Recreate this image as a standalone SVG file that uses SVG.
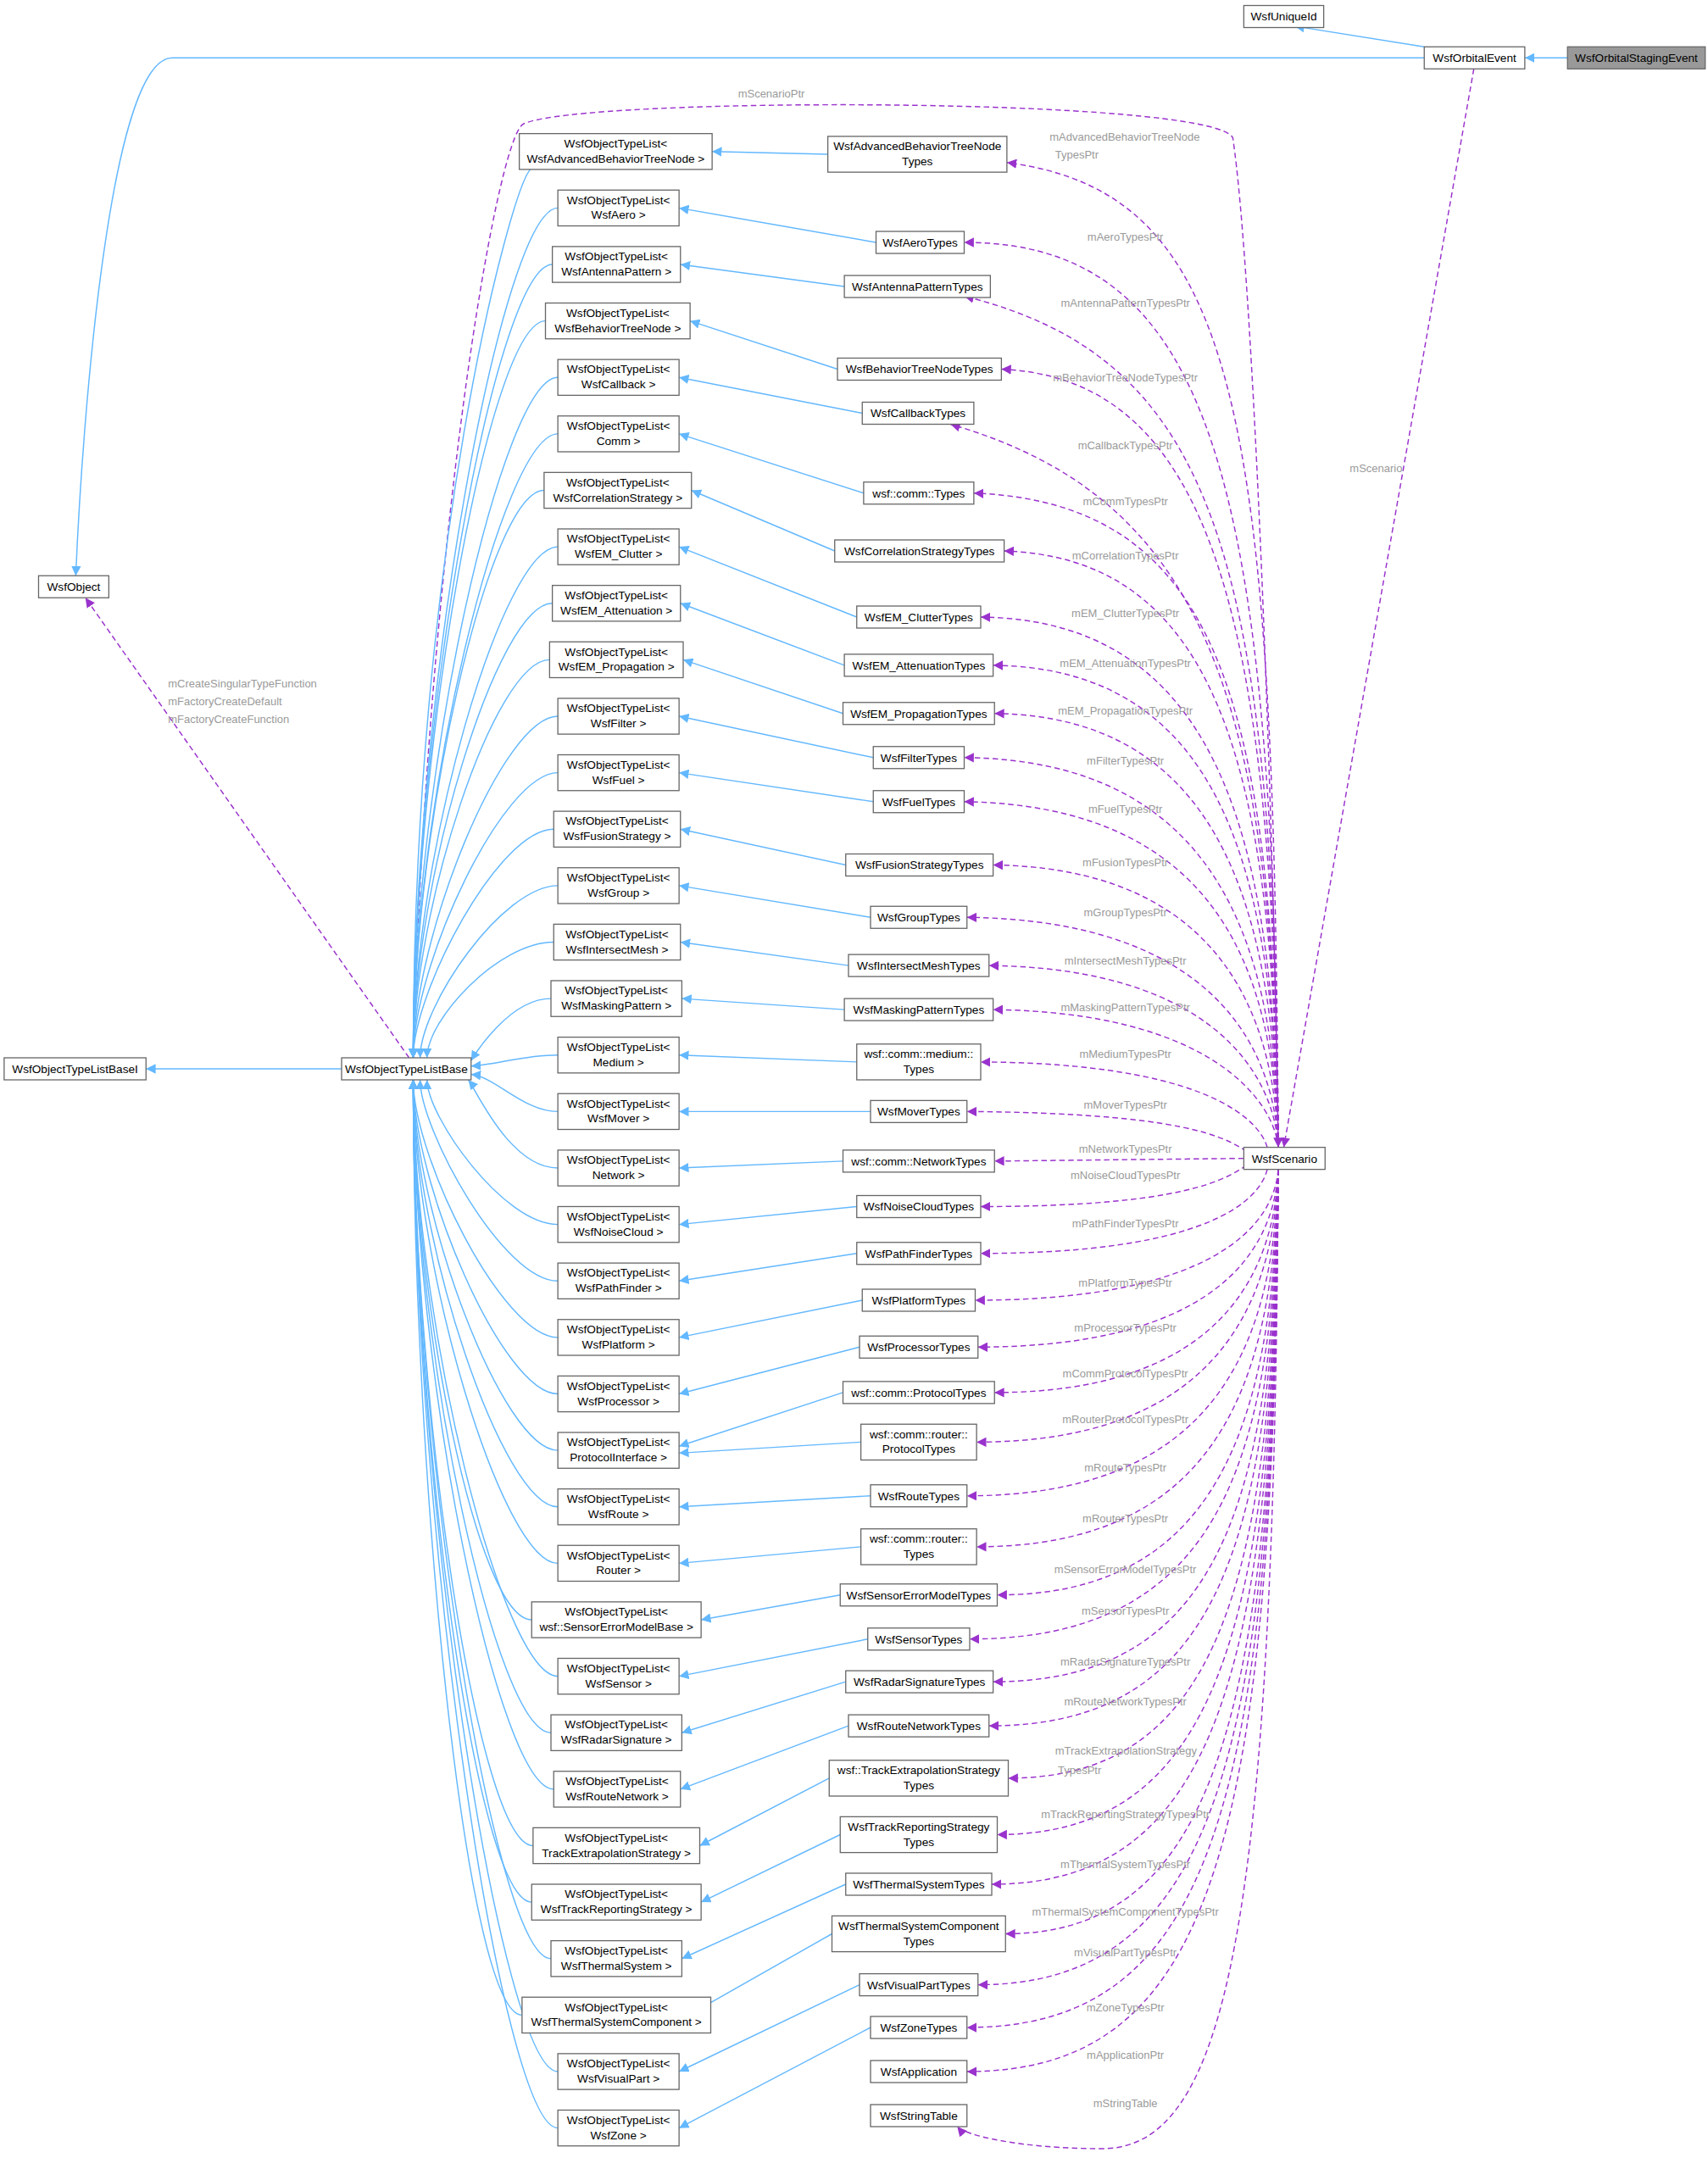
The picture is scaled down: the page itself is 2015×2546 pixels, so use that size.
<svg xmlns="http://www.w3.org/2000/svg" width="2015" height="2546" viewBox="0 0 2015 2546">
<style>
.b rect{fill:#fff;stroke:#666;stroke-width:0.8}
.b text{font-family:"Liberation Sans",Arial,sans-serif;font-size:8.4px;fill:#000;text-anchor:middle}
.e{fill:none;stroke:#63b8ff;stroke-width:0.9}
.d{fill:none;stroke:#9a32cd;stroke-width:0.9;stroke-dasharray:4,2.5}
.l{font-family:"Liberation Sans",Arial,sans-serif;font-size:8px;fill:#9a9a9a;text-anchor:middle}
.ls{font-family:"Liberation Sans",Arial,sans-serif;font-size:8px;fill:#9a9a9a}
</style>
<defs>
<marker id="ab" viewBox="0 0 10 10" refX="10" refY="5" markerWidth="7" markerHeight="7" markerUnits="userSpaceOnUse" orient="auto"><path d="M0,0L10,5L0,10z" fill="#63b8ff"/></marker>
<marker id="ap" viewBox="0 0 10 10" refX="10" refY="5" markerWidth="7" markerHeight="7" markerUnits="userSpaceOnUse" orient="auto"><path d="M0,0L10,5L0,10z" fill="#9a32cd"/></marker>
</defs>
<rect width="2015" height="2546" fill="#fff"/>
<g transform="scale(1.625)">
<g id="connectors">
<path class="e" marker-end="url(#ab)" d="M1138,42L1107,42"/>
<path class="e" marker-end="url(#ab)" d="M1034,34L940,19"/>
<path class="e" marker-end="url(#ab)" d="M1034,42L125,42C80,42 60,300 55,418"/>
<path class="e" marker-end="url(#ab)" d="M248,776L106,776"/>
<path class="d" marker-end="url(#ap)" d="M297,768L62,434"/>
<text class="ls" x="122" y="499">mCreateSingularTypeFunction</text>
<text class="ls" x="122" y="512">mFactoryCreateDefault</text>
<text class="ls" x="122" y="525">mFactoryCreateFunction</text>
<path class="d" marker-end="url(#ap)" d="M1070,50L932,833"/>
<text class="l" x="999" y="343">mScenario</text>
<path class="d" marker-end="url(#ap)" d="M300,768C310,400 360,100 380,90C420,70 880,70 895,100C910,200 925,600 928,833"/>
<text class="l" x="560" y="71">mScenarioPtr</text>
<!-- list to base -->
<path class="e" marker-end="url(#ab)" d="M385,123C370,140 300,400 300,768"/>
<path class="e" marker-end="url(#ab)" d="M405,151C365,151 300,500 300,768"/>
<path class="e" marker-end="url(#ab)" d="M401,192C361,192 300,520 300,768"/>
<path class="e" marker-end="url(#ab)" d="M396,233C356,233 300,540 300,768"/>
<path class="e" marker-end="url(#ab)" d="M405,274C365,274 300,560 300,768"/>
<path class="e" marker-end="url(#ab)" d="M405,315C365,315 300,580 300,768"/>
<path class="e" marker-end="url(#ab)" d="M395,356C355,356 300,600 300,768"/>
<path class="e" marker-end="url(#ab)" d="M405,397C365,397 300,620 300,768"/>
<path class="e" marker-end="url(#ab)" d="M401,438C361,438 300,640 300,768"/>
<path class="e" marker-end="url(#ab)" d="M399,479C359,479 300,660 300,768"/>
<path class="e" marker-end="url(#ab)" d="M405,520C365,520 300,680 300,768"/>
<path class="e" marker-end="url(#ab)" d="M405,561C365,561 300,700 300,768"/>
<path class="e" marker-end="url(#ab)" d="M402,602C362,602 300,720 300,768"/>
<path class="e" marker-end="url(#ab)" d="M405,643C365,643 305,730 305,768"/>
<path class="e" marker-end="url(#ab)" d="M402,684C362,684 310,740 310,768"/>
<path class="e" marker-end="url(#ab)" d="M400,725C370,725 345,765 342,770"/>
<path class="e" marker-end="url(#ab)" d="M405,766C380,766 360,773 342,774"/>
<path class="e" marker-end="url(#ab)" d="M405,807C380,807 360,782 342,780"/>
<path class="e" marker-end="url(#ab)" d="M405,848C370,848 345,790 340,784"/>
<path class="e" marker-end="url(#ab)" d="M405,889C365,889 310,810 310,784"/>
<path class="e" marker-end="url(#ab)" d="M405,930C365,930 305,820 305,784"/>
<path class="e" marker-end="url(#ab)" d="M405,971C365,971 300,840 300,784"/>
<path class="e" marker-end="url(#ab)" d="M405,1012C365,1012 300,860 300,784"/>
<path class="e" marker-end="url(#ab)" d="M405,1053C365,1053 300,880 300,784"/>
<path class="e" marker-end="url(#ab)" d="M405,1094C365,1094 300,900 300,784"/>
<path class="e" marker-end="url(#ab)" d="M405,1135C365,1135 300,920 300,784"/>
<path class="e" marker-end="url(#ab)" d="M386,1176C346,1176 300,940 300,784"/>
<path class="e" marker-end="url(#ab)" d="M405,1217C365,1217 300,960 300,784"/>
<path class="e" marker-end="url(#ab)" d="M400,1258C360,1258 300,980 300,784"/>
<path class="e" marker-end="url(#ab)" d="M402,1299C362,1299 300,1000 300,784"/>
<path class="e" marker-end="url(#ab)" d="M387,1340C347,1340 300,1020 300,784"/>
<path class="e" marker-end="url(#ab)" d="M386,1381C346,1381 300,1040 300,784"/>
<path class="e" marker-end="url(#ab)" d="M400,1422C360,1422 300,1060 300,784"/>
<path class="e" marker-end="url(#ab)" d="M379,1463C339,1463 300,1080 300,784"/>
<path class="e" marker-end="url(#ab)" d="M405,1504C365,1504 300,1100 300,784"/>
<path class="e" marker-end="url(#ab)" d="M405,1545C365,1545 300,1120 300,784"/>
<!-- types to list -->
<path class="e" marker-end="url(#ab)" d="M601,112L517,110"/>
<path class="e" marker-end="url(#ab)" d="M636,176L493,151"/>
<path class="e" marker-end="url(#ab)" d="M613,208L494,192"/>
<path class="e" marker-end="url(#ab)" d="M608,268L501,233"/>
<path class="e" marker-end="url(#ab)" d="M626,300L493,274"/>
<path class="e" marker-end="url(#ab)" d="M627,358L493,315"/>
<path class="e" marker-end="url(#ab)" d="M606,400L502,356"/>
<path class="e" marker-end="url(#ab)" d="M622,448L493,397"/>
<path class="e" marker-end="url(#ab)" d="M613,483L494,438"/>
<path class="e" marker-end="url(#ab)" d="M612,518L496,479"/>
<path class="e" marker-end="url(#ab)" d="M634,550L493,520"/>
<path class="e" marker-end="url(#ab)" d="M634,582L493,561"/>
<path class="e" marker-end="url(#ab)" d="M614,628L494,602"/>
<path class="e" marker-end="url(#ab)" d="M632,666L493,643"/>
<path class="e" marker-end="url(#ab)" d="M616,701L494,684"/>
<path class="e" marker-end="url(#ab)" d="M613,733L495,725"/>
<path class="e" marker-end="url(#ab)" d="M622,771L493,766"/>
<path class="e" marker-end="url(#ab)" d="M632,807L493,807"/>
<path class="e" marker-end="url(#ab)" d="M612,843L493,848"/>
<path class="e" marker-end="url(#ab)" d="M622,876L493,889"/>
<path class="e" marker-end="url(#ab)" d="M622,910L493,930"/>
<path class="e" marker-end="url(#ab)" d="M626,944L493,971"/>
<path class="e" marker-end="url(#ab)" d="M624,978L493,1012"/>
<path class="e" marker-end="url(#ab)" d="M612,1011L493,1050"/>
<path class="e" marker-end="url(#ab)" d="M625,1047L493,1055"/>
<path class="e" marker-end="url(#ab)" d="M632,1086L493,1094"/>
<path class="e" marker-end="url(#ab)" d="M625,1123L493,1135"/>
<path class="e" marker-end="url(#ab)" d="M610,1158L509,1176"/>
<path class="e" marker-end="url(#ab)" d="M630,1190L493,1217"/>
<path class="e" marker-end="url(#ab)" d="M614,1221L495,1258"/>
<path class="e" marker-end="url(#ab)" d="M616,1253L494,1299"/>
<path class="e" marker-end="url(#ab)" d="M602,1291L508,1340"/>
<path class="e" marker-end="url(#ab)" d="M610,1332L509,1381"/>
<path class="e" marker-end="url(#ab)" d="M614,1368L495,1422"/>
<path class="e" marker-end="url(#ab)" d="M604,1404L500,1463"/>
<path class="e" marker-end="url(#ab)" d="M624,1441L493,1504"/>
<path class="e" marker-end="url(#ab)" d="M632,1472L493,1545"/>
<!-- scenario to types -->
<path class="d" marker-end="url(#ap)" d="M928,833C925,300 900,140 731,118"/>
<path class="d" marker-end="url(#ap)" d="M928,833C925,350 880,176 700,176"/>
<path class="d" marker-end="url(#ap)" d="M928,833C925,400 880,260 700,215"/>
<path class="d" marker-end="url(#ap)" d="M928,833C925,450 880,275 727,268"/>
<path class="d" marker-end="url(#ap)" d="M928,833C925,500 870,360 690,308"/>
<path class="d" marker-end="url(#ap)" d="M928,833C925,500 880,365 707,358"/>
<path class="d" marker-end="url(#ap)" d="M928,833C925,550 880,405 729,400"/>
<path class="d" marker-end="url(#ap)" d="M928,833C925,600 880,450 712,448"/>
<path class="d" marker-end="url(#ap)" d="M928,833C925,620 880,485 721,483"/>
<path class="d" marker-end="url(#ap)" d="M928,833C925,650 880,520 722,518"/>
<path class="d" marker-end="url(#ap)" d="M928,833C925,680 880,552 700,550"/>
<path class="d" marker-end="url(#ap)" d="M928,833C925,700 880,585 700,582"/>
<path class="d" marker-end="url(#ap)" d="M928,833C925,730 880,630 721,628"/>
<path class="d" marker-end="url(#ap)" d="M928,833C925,760 880,668 702,666"/>
<path class="d" marker-end="url(#ap)" d="M928,833C925,780 880,703 718,701"/>
<path class="d" marker-end="url(#ap)" d="M928,833C925,800 880,735 721,733"/>
<path class="d" marker-end="url(#ap)" d="M920,833C915,815 880,772 712,771"/>
<path class="d" marker-end="url(#ap)" d="M905,836C890,826 860,808 702,807"/>
<path class="d" marker-end="url(#ap)" d="M903,841L722,843"/>
<path class="d" marker-end="url(#ap)" d="M905,846C890,856 860,876 712,876"/>
<path class="d" marker-end="url(#ap)" d="M920,849C915,870 880,910 712,910"/>
<path class="d" marker-end="url(#ap)" d="M928,849C925,890 880,944 708,944"/>
<path class="d" marker-end="url(#ap)" d="M928,849C925,910 880,978 710,978"/>
<path class="d" marker-end="url(#ap)" d="M928,849C925,930 880,1011 722,1011"/>
<path class="d" marker-end="url(#ap)" d="M928,849C925,950 880,1047 709,1047"/>
<path class="d" marker-end="url(#ap)" d="M928,849C925,980 880,1086 702,1086"/>
<path class="d" marker-end="url(#ap)" d="M928,849C925,1010 880,1123 709,1123"/>
<path class="d" marker-end="url(#ap)" d="M928,849C925,1040 880,1158 724,1158"/>
<path class="d" marker-end="url(#ap)" d="M928,849C925,1070 880,1190 704,1190"/>
<path class="d" marker-end="url(#ap)" d="M928,849C925,1100 880,1221 721,1221"/>
<path class="d" marker-end="url(#ap)" d="M928,849C925,1130 880,1253 718,1253"/>
<path class="d" marker-end="url(#ap)" d="M928,849C925,1160 880,1291 732,1291"/>
<path class="d" marker-end="url(#ap)" d="M928,849C925,1190 880,1332 724,1332"/>
<path class="d" marker-end="url(#ap)" d="M928,849C925,1220 880,1368 720,1368"/>
<path class="d" marker-end="url(#ap)" d="M928,849C925,1250 880,1404 730,1404"/>
<path class="d" marker-end="url(#ap)" d="M928,849C925,1280 880,1441 710,1441"/>
<path class="d" marker-end="url(#ap)" d="M928,849C925,1310 880,1472 702,1472"/>
<path class="d" marker-end="url(#ap)" d="M928,849C925,1340 880,1504 702,1504"/>
<path class="d" marker-end="url(#ap)" d="M928,849C925,1400 890,1560 800,1560C740,1560 700,1550 695,1544"/>
<text class="ls" x="762" y="102">mAdvancedBehaviorTreeNode</text>
<text class="ls" x="766" y="115">TypesPtr</text>
<text class="l" x="817" y="175">mAeroTypesPtr</text>
<text class="l" x="817" y="223">mAntennaPatternTypesPtr</text>
<text class="l" x="817" y="277">mBehaviorTreeNodeTypesPtr</text>
<text class="l" x="817" y="326">mCallbackTypesPtr</text>
<text class="l" x="817" y="367">mCommTypesPtr</text>
<text class="l" x="817" y="406">mCorrelationTypesPtr</text>
<text class="l" x="817" y="448">mEM_ClutterTypesPtr</text>
<text class="l" x="817" y="484">mEM_AttenuationTypesPtr</text>
<text class="l" x="817" y="519">mEM_PropagationTypesPtr</text>
<text class="l" x="817" y="555">mFilterTypesPtr</text>
<text class="l" x="817" y="590">mFuelTypesPtr</text>
<text class="l" x="817" y="629">mFusionTypesPtr</text>
<text class="l" x="817" y="665">mGroupTypesPtr</text>
<text class="l" x="817" y="700">mIntersectMeshTypesPtr</text>
<text class="l" x="817" y="734">mMaskingPatternTypesPtr</text>
<text class="l" x="817" y="768">mMediumTypesPtr</text>
<text class="l" x="817" y="805">mMoverTypesPtr</text>
<text class="l" x="817" y="837">mNetworkTypesPtr</text>
<text class="l" x="817" y="856">mNoiseCloudTypesPtr</text>
<text class="l" x="817" y="891">mPathFinderTypesPtr</text>
<text class="l" x="817" y="934">mPlatformTypesPtr</text>
<text class="l" x="817" y="967">mProcessorTypesPtr</text>
<text class="l" x="817" y="1000">mCommProtocolTypesPtr</text>
<text class="l" x="817" y="1033">mRouterProtocolTypesPtr</text>
<text class="l" x="817" y="1068">mRouteTypesPtr</text>
<text class="l" x="817" y="1105">mRouterTypesPtr</text>
<text class="l" x="817" y="1142">mSensorErrorModelTypesPtr</text>
<text class="l" x="817" y="1172">mSensorTypesPtr</text>
<text class="l" x="817" y="1209">mRadarSignatureTypesPtr</text>
<text class="l" x="817" y="1238">mRouteNetworkTypesPtr</text>
<text class="ls" x="766" y="1274">mTrackExtrapolationStrategy</text>
<text class="ls" x="768" y="1288">TypesPtr</text>
<text class="l" x="817" y="1320">mTrackReportingStrategyTypesPtr</text>
<text class="l" x="817" y="1356">mThermalSystemTypesPtr</text>
<text class="l" x="817" y="1391">mThermalSystemComponentTypesPtr</text>
<text class="l" x="817" y="1420">mVisualPartTypesPtr</text>
<text class="l" x="817" y="1460">mZoneTypesPtr</text>
<text class="l" x="817" y="1495">mApplicationPtr</text>
<text class="l" x="817" y="1530">mStringTable</text>
</g>
<g id="WsfUniqueId" class="b"><rect x="903" y="4" width="58" height="16"/><text x="932" y="15">WsfUniqueId</text></g>
<g id="WsfOrbitalEvent" class="b"><rect x="1034" y="34" width="73" height="16"/><text x="1070.5" y="45">WsfOrbitalEvent</text></g>
<g id="WsfOrbitalStagingEvent" class="b"><rect x="1138" y="34" width="100" height="16" style="fill:#999"/><text x="1188" y="45">WsfOrbitalStagingEvent</text></g>
<g id="WsfObject" class="b"><rect x="28" y="418" width="51" height="16"/><text x="53.5" y="429">WsfObject</text></g>
<g id="WsfObjectTypeListBaseI" class="b"><rect x="3" y="768" width="103" height="16"/><text x="54.5" y="779">WsfObjectTypeListBaseI</text></g>
<g id="WsfObjectTypeListBase" class="b"><rect x="248" y="768" width="94" height="16"/><text x="295" y="779">WsfObjectTypeListBase</text></g>
<g id="WsfScenario" class="b"><rect x="903" y="833" width="59" height="16"/><text x="932.5" y="844">WsfScenario</text></g>
<g id="lists" class="b">
<g id="L1"><rect x="377" y="97" width="140" height="26"/><text x="447" y="107">WsfObjectTypeList&lt;</text><text x="447" y="118">WsfAdvancedBehaviorTreeNode &gt;</text></g>
<g id="L2"><rect x="405" y="138" width="88" height="26"/><text x="449" y="148">WsfObjectTypeList&lt;</text><text x="449" y="159">WsfAero &gt;</text></g>
<g id="L3"><rect x="401" y="179" width="93" height="26"/><text x="447.5" y="189">WsfObjectTypeList&lt;</text><text x="447.5" y="200">WsfAntennaPattern &gt;</text></g>
<g id="L4"><rect x="396" y="220" width="105" height="26"/><text x="448.5" y="230">WsfObjectTypeList&lt;</text><text x="448.5" y="241">WsfBehaviorTreeNode &gt;</text></g>
<g id="L5"><rect x="405" y="261" width="88" height="26"/><text x="449" y="271">WsfObjectTypeList&lt;</text><text x="449" y="282">WsfCallback &gt;</text></g>
<g id="L6"><rect x="405" y="302" width="88" height="26"/><text x="449" y="312">WsfObjectTypeList&lt;</text><text x="449" y="323">Comm &gt;</text></g>
<g id="L7"><rect x="395" y="343" width="107" height="26"/><text x="448.5" y="353">WsfObjectTypeList&lt;</text><text x="448.5" y="364">WsfCorrelationStrategy &gt;</text></g>
<g id="L8"><rect x="405" y="384" width="88" height="26"/><text x="449" y="394">WsfObjectTypeList&lt;</text><text x="449" y="405">WsfEM_Clutter &gt;</text></g>
<g id="L9"><rect x="401" y="425" width="93" height="26"/><text x="447.5" y="435">WsfObjectTypeList&lt;</text><text x="447.5" y="446">WsfEM_Attenuation &gt;</text></g>
<g id="L10"><rect x="399" y="466" width="97" height="26"/><text x="447.5" y="476">WsfObjectTypeList&lt;</text><text x="447.5" y="487">WsfEM_Propagation &gt;</text></g>
<g id="L11"><rect x="405" y="507" width="88" height="26"/><text x="449" y="517">WsfObjectTypeList&lt;</text><text x="449" y="528">WsfFilter &gt;</text></g>
<g id="L12"><rect x="405" y="548" width="88" height="26"/><text x="449" y="558">WsfObjectTypeList&lt;</text><text x="449" y="569">WsfFuel &gt;</text></g>
<g id="L13"><rect x="402" y="589" width="92" height="26"/><text x="448" y="599">WsfObjectTypeList&lt;</text><text x="448" y="610">WsfFusionStrategy &gt;</text></g>
<g id="L14"><rect x="405" y="630" width="88" height="26"/><text x="449" y="640">WsfObjectTypeList&lt;</text><text x="449" y="651">WsfGroup &gt;</text></g>
<g id="L15"><rect x="402" y="671" width="92" height="26"/><text x="448" y="681">WsfObjectTypeList&lt;</text><text x="448" y="692">WsfIntersectMesh &gt;</text></g>
<g id="L16"><rect x="400" y="712" width="95" height="26"/><text x="447.5" y="722">WsfObjectTypeList&lt;</text><text x="447.5" y="733">WsfMaskingPattern &gt;</text></g>
<g id="L17"><rect x="405" y="753" width="88" height="26"/><text x="449" y="763">WsfObjectTypeList&lt;</text><text x="449" y="774">Medium &gt;</text></g>
<g id="L18"><rect x="405" y="794" width="88" height="26"/><text x="449" y="804">WsfObjectTypeList&lt;</text><text x="449" y="815">WsfMover &gt;</text></g>
<g id="L19"><rect x="405" y="835" width="88" height="26"/><text x="449" y="845">WsfObjectTypeList&lt;</text><text x="449" y="856">Network &gt;</text></g>
<g id="L20"><rect x="405" y="876" width="88" height="26"/><text x="449" y="886">WsfObjectTypeList&lt;</text><text x="449" y="897">WsfNoiseCloud &gt;</text></g>
<g id="L21"><rect x="405" y="917" width="88" height="26"/><text x="449" y="927">WsfObjectTypeList&lt;</text><text x="449" y="938">WsfPathFinder &gt;</text></g>
<g id="L22"><rect x="405" y="958" width="88" height="26"/><text x="449" y="968">WsfObjectTypeList&lt;</text><text x="449" y="979">WsfPlatform &gt;</text></g>
<g id="L23"><rect x="405" y="999" width="88" height="26"/><text x="449" y="1009">WsfObjectTypeList&lt;</text><text x="449" y="1020">WsfProcessor &gt;</text></g>
<g id="L24"><rect x="405" y="1040" width="88" height="26"/><text x="449" y="1050">WsfObjectTypeList&lt;</text><text x="449" y="1061">ProtocolInterface &gt;</text></g>
<g id="L25"><rect x="405" y="1081" width="88" height="26"/><text x="449" y="1091">WsfObjectTypeList&lt;</text><text x="449" y="1102">WsfRoute &gt;</text></g>
<g id="L26"><rect x="405" y="1122" width="88" height="26"/><text x="449" y="1132">WsfObjectTypeList&lt;</text><text x="449" y="1143">Router &gt;</text></g>
<g id="L27"><rect x="386" y="1163" width="123" height="26"/><text x="447.5" y="1173">WsfObjectTypeList&lt;</text><text x="447.5" y="1184">wsf::SensorErrorModelBase &gt;</text></g>
<g id="L28"><rect x="405" y="1204" width="88" height="26"/><text x="449" y="1214">WsfObjectTypeList&lt;</text><text x="449" y="1225">WsfSensor &gt;</text></g>
<g id="L29"><rect x="400" y="1245" width="95" height="26"/><text x="447.5" y="1255">WsfObjectTypeList&lt;</text><text x="447.5" y="1266">WsfRadarSignature &gt;</text></g>
<g id="L30"><rect x="402" y="1286" width="92" height="26"/><text x="448" y="1296">WsfObjectTypeList&lt;</text><text x="448" y="1307">WsfRouteNetwork &gt;</text></g>
<g id="L31"><rect x="387" y="1327" width="121" height="26"/><text x="447.5" y="1337">WsfObjectTypeList&lt;</text><text x="447.5" y="1348">TrackExtrapolationStrategy &gt;</text></g>
<g id="L32"><rect x="386" y="1368" width="123" height="26"/><text x="447.5" y="1378">WsfObjectTypeList&lt;</text><text x="447.5" y="1389">WsfTrackReportingStrategy &gt;</text></g>
<g id="L33"><rect x="400" y="1409" width="95" height="26"/><text x="447.5" y="1419">WsfObjectTypeList&lt;</text><text x="447.5" y="1430">WsfThermalSystem &gt;</text></g>
<g id="L34"><rect x="379" y="1450" width="137" height="26"/><text x="447.5" y="1460">WsfObjectTypeList&lt;</text><text x="447.5" y="1471">WsfThermalSystemComponent &gt;</text></g>
<g id="L35"><rect x="405" y="1491" width="88" height="26"/><text x="449" y="1501">WsfObjectTypeList&lt;</text><text x="449" y="1512">WsfVisualPart &gt;</text></g>
<g id="L36"><rect x="405" y="1532" width="88" height="26"/><text x="449" y="1542">WsfObjectTypeList&lt;</text><text x="449" y="1553">WsfZone &gt;</text></g>
</g>
<g id="types" class="b">
<g id="T1"><rect x="601" y="99" width="130" height="26"/><text x="666" y="109">WsfAdvancedBehaviorTreeNode</text><text x="666" y="120">Types</text></g>
<g id="T2"><rect x="636" y="168" width="64" height="16"/><text x="668" y="179">WsfAeroTypes</text></g>
<g id="T3"><rect x="613" y="200" width="106" height="16"/><text x="666" y="211">WsfAntennaPatternTypes</text></g>
<g id="T4"><rect x="608" y="260" width="119" height="16"/><text x="667.5" y="271">WsfBehaviorTreeNodeTypes</text></g>
<g id="T5"><rect x="626" y="292" width="81" height="16"/><text x="666.5" y="303">WsfCallbackTypes</text></g>
<g id="T6"><rect x="627" y="350" width="80" height="16"/><text x="667" y="361">wsf::comm::Types</text></g>
<g id="T7"><rect x="606" y="392" width="123" height="16"/><text x="667.5" y="403">WsfCorrelationStrategyTypes</text></g>
<g id="T8"><rect x="622" y="440" width="90" height="16"/><text x="667" y="451">WsfEM_ClutterTypes</text></g>
<g id="T9"><rect x="613" y="475" width="108" height="16"/><text x="667" y="486">WsfEM_AttenuationTypes</text></g>
<g id="T10"><rect x="612" y="510" width="110" height="16"/><text x="667" y="521">WsfEM_PropagationTypes</text></g>
<g id="T11"><rect x="634" y="542" width="66" height="16"/><text x="667" y="553">WsfFilterTypes</text></g>
<g id="T12"><rect x="634" y="574" width="66" height="16"/><text x="667" y="585">WsfFuelTypes</text></g>
<g id="T13"><rect x="614" y="620" width="107" height="16"/><text x="667.5" y="631">WsfFusionStrategyTypes</text></g>
<g id="T14"><rect x="632" y="658" width="70" height="16"/><text x="667" y="669">WsfGroupTypes</text></g>
<g id="T15"><rect x="616" y="693" width="102" height="16"/><text x="667" y="704">WsfIntersectMeshTypes</text></g>
<g id="T16"><rect x="613" y="725" width="108" height="16"/><text x="667" y="736">WsfMaskingPatternTypes</text></g>
<g id="T17"><rect x="622" y="758" width="90" height="26"/><text x="667" y="768">wsf::comm::medium::</text><text x="667" y="779">Types</text></g>
<g id="T18"><rect x="632" y="799" width="70" height="16"/><text x="667" y="810">WsfMoverTypes</text></g>
<g id="T19"><rect x="612" y="835" width="110" height="16"/><text x="667" y="846">wsf::comm::NetworkTypes</text></g>
<g id="T20"><rect x="622" y="868" width="90" height="16"/><text x="667" y="879">WsfNoiseCloudTypes</text></g>
<g id="T21"><rect x="622" y="902" width="90" height="16"/><text x="667" y="913">WsfPathFinderTypes</text></g>
<g id="T22"><rect x="626" y="936" width="82" height="16"/><text x="667" y="947">WsfPlatformTypes</text></g>
<g id="T23"><rect x="624" y="970" width="86" height="16"/><text x="667" y="981">WsfProcessorTypes</text></g>
<g id="T24"><rect x="612" y="1003" width="110" height="16"/><text x="667" y="1014">wsf::comm::ProtocolTypes</text></g>
<g id="T25"><rect x="625" y="1034" width="84" height="26"/><text x="667" y="1044">wsf::comm::router::</text><text x="667" y="1055">ProtocolTypes</text></g>
<g id="T26"><rect x="632" y="1078" width="70" height="16"/><text x="667" y="1089">WsfRouteTypes</text></g>
<g id="T27"><rect x="625" y="1110" width="84" height="26"/><text x="667" y="1120">wsf::comm::router::</text><text x="667" y="1131">Types</text></g>
<g id="T28"><rect x="610" y="1150" width="114" height="16"/><text x="667" y="1161">WsfSensorErrorModelTypes</text></g>
<g id="T29"><rect x="630" y="1182" width="74" height="16"/><text x="667" y="1193">WsfSensorTypes</text></g>
<g id="T30"><rect x="614" y="1213" width="107" height="16"/><text x="667.5" y="1224">WsfRadarSignatureTypes</text></g>
<g id="T31"><rect x="616" y="1245" width="102" height="16"/><text x="667" y="1256">WsfRouteNetworkTypes</text></g>
<g id="T32"><rect x="602" y="1278" width="130" height="26"/><text x="667" y="1288">wsf::TrackExtrapolationStrategy</text><text x="667" y="1299">Types</text></g>
<g id="T33"><rect x="610" y="1319" width="114" height="26"/><text x="667" y="1329">WsfTrackReportingStrategy</text><text x="667" y="1340">Types</text></g>
<g id="T34"><rect x="614" y="1360" width="106" height="16"/><text x="667" y="1371">WsfThermalSystemTypes</text></g>
<g id="T35"><rect x="604" y="1391" width="126" height="26"/><text x="667" y="1401">WsfThermalSystemComponent</text><text x="667" y="1412">Types</text></g>
<g id="T36"><rect x="624" y="1433" width="86" height="16"/><text x="667" y="1444">WsfVisualPartTypes</text></g>
<g id="T37"><rect x="632" y="1464" width="70" height="16"/><text x="667" y="1475">WsfZoneTypes</text></g>
<g id="T38"><rect x="632" y="1496" width="70" height="16"/><text x="667" y="1507">WsfApplication</text></g>
<g id="T39"><rect x="632" y="1528" width="70" height="16"/><text x="667" y="1539">WsfStringTable</text></g>
</g>
</g>
</svg>
